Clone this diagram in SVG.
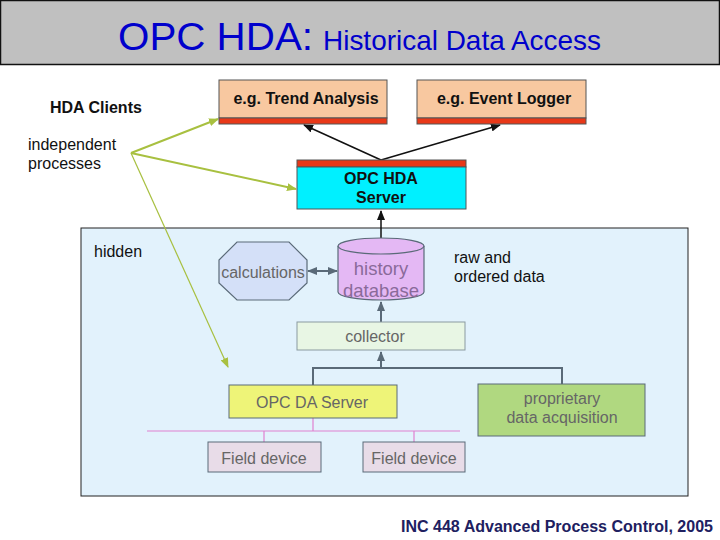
<svg xmlns="http://www.w3.org/2000/svg" width="720" height="540" viewBox="0 0 720 540">
<defs>
<style>
text{font-family:"Liberation Sans",Arial,sans-serif}
.bold{font-weight:bold}
.client{fill:#f8c8a0;stroke:#555;stroke-width:1}
.red{fill:#e83818;stroke:#555;stroke-width:1}
.dark{stroke:#111;stroke-width:1.5;fill:none}
.grey{stroke:#5a6a78;stroke-width:2;fill:none}
.green{stroke:#a8c040;fill:none}
.pink{stroke:#e080d0;stroke-width:1.2;fill:none}
.gtext{fill:#666;font-size:16px}
.lbl{fill:#111;font-size:16px}
</style>
<marker id="ab" markerWidth="10" markerHeight="8" refX="9" refY="4" orient="auto" markerUnits="userSpaceOnUse"><path d="M0,0 L10,4 L0,8 z" fill="#111"/></marker>
<marker id="ag" markerWidth="10" markerHeight="8" refX="9" refY="4" orient="auto" markerUnits="userSpaceOnUse"><path d="M0,0 L10,4 L0,8 z" fill="#5a6a78"/></marker>
<marker id="ags" markerWidth="10" markerHeight="8" refX="1" refY="4" orient="auto" markerUnits="userSpaceOnUse"><path d="M10,0 L0,4 L10,8 z" fill="#5a6a78"/></marker>
<marker id="agr" markerWidth="10" markerHeight="8" refX="9" refY="4" orient="auto" markerUnits="userSpaceOnUse"><path d="M0,0 L10,4 L0,8 z" fill="#a8c040"/></marker>
</defs>
<rect width="720" height="540" fill="#fff"/>
<g id="title">
<rect x="0.5" y="0.5" width="719" height="64" fill="#c0c0c0" stroke="#111" stroke-width="1.5"/>
<text x="118" y="50" fill="#0000cc" font-size="38" textLength="195" lengthAdjust="spacingAndGlyphs">OPC HDA:</text>
<text x="323" y="50" fill="#0000cc" font-size="28" textLength="278" lengthAdjust="spacingAndGlyphs">Historical Data Access</text>
</g>
<g id="hidden-area">
<rect x="81" y="228" width="607" height="268" fill="#e2f2fc" stroke="#222" stroke-width="1"/>
<text x="94" y="257" class="lbl">hidden</text>
</g>
<g id="labels">
<text x="50" y="113" class="lbl bold">HDA Clients</text>
<text x="28" y="150" class="lbl">independent</text>
<text x="28" y="169" class="lbl">processes</text>
<text x="454" y="263" class="lbl">raw and</text>
<text x="454" y="282" class="lbl">ordered data</text>
<text x="401" y="532" font-size="16" class="bold" fill="#202060" textLength="312" lengthAdjust="spacingAndGlyphs">INC 448 Advanced Process Control, 2005</text>
</g>
<g id="connectors">
<path class="dark" d="M381,160 L304,125" marker-end="url(#ab)"/>
<path class="dark" d="M381,160 L500,125" marker-end="url(#ab)"/>
<path class="dark" d="M381,240 L381,211" marker-end="url(#ab)"/>
<path class="green" stroke-width="2" d="M131,153 L218,119" marker-end="url(#agr)"/>
<path class="green" stroke-width="2" d="M131,153 L296,189" marker-end="url(#agr)"/>
<path class="green" stroke-width="1.2" d="M131,153 L228,367" marker-end="url(#agr)"/>
<path class="grey" d="M308,271 L337,271" marker-start="url(#ags)" marker-end="url(#ag)"/>
<path class="grey" d="M381,322 L381,302" marker-end="url(#ag)"/>
<path class="grey" d="M381,368 L381,352" marker-end="url(#ag)"/>
<path class="grey" d="M313,385 L313,368 L562,368 L562,384"/>
<path class="pink" d="M147,431 L460,431 M313,418 L313,431 M264,431 L264,442 M414,431 L414,442"/>
</g>
<g id="trend-analysis">
<rect class="client" x="219" y="80" width="168" height="38"/>
<rect class="red" x="219" y="118" width="168" height="6"/>
<text x="306" y="104" class="lbl bold" text-anchor="middle">e.g. Trend Analysis</text>
</g>
<g id="event-logger">
<rect class="client" x="417" y="80" width="169" height="38"/>
<rect class="red" x="417" y="118" width="169" height="6"/>
<text x="504" y="104" class="lbl bold" text-anchor="middle">e.g. Event Logger</text>
</g>
<g id="hda-server">
<rect x="297" y="160" width="169" height="7" fill="#e83818" stroke="#555"/>
<rect x="297" y="167" width="169" height="42" fill="#00f0ff" stroke="#555"/>
<text x="381" y="184" class="lbl bold" text-anchor="middle">OPC HDA</text>
<text x="381" y="203" class="lbl bold" text-anchor="middle">Server</text>
</g>
<g id="calculations">
<polygon points="237,242 289,242 307,260 307,283 289,300 237,300 219,283 219,260" fill="#d4e0f8" stroke="#5a6a78" stroke-width="1.2"/>
<text x="263" y="278" class="gtext" text-anchor="middle">calculations</text>
</g>
<g id="history-database">
<path d="M338,246 L338,292 A43,8 0 0 0 424,292 L424,246" fill="#e4b8f4" stroke="#5a6a78" stroke-width="1.2"/>
<ellipse cx="381" cy="246" rx="43" ry="8" fill="#e4b8f4" stroke="#5a6a78" stroke-width="1.2"/>
<text x="381" y="275" font-size="18.5" fill="#8a6a9a" text-anchor="middle">history</text>
<text x="381" y="297" font-size="18.5" fill="#8a6a9a" text-anchor="middle">database</text>
</g>
<g id="collector">
<rect x="297" y="322" width="168" height="28" fill="#e8f6e4" stroke="#8a9aa0"/>
<text x="375" y="342" class="gtext" text-anchor="middle">collector</text>
</g>
<g id="opc-da-server">
<rect x="229" y="385" width="168" height="33" fill="#eef478" stroke="#5a6a78"/>
<text x="312" y="408" class="gtext" text-anchor="middle">OPC DA Server</text>
</g>
<g id="proprietary">
<rect x="478" y="384" width="167" height="52" fill="#b0d880" stroke="#5a6a78"/>
<text x="562" y="404" class="gtext" text-anchor="middle">proprietary</text>
<text x="562" y="423" class="gtext" text-anchor="middle">data acquisition</text>
</g>
<g id="field-device-1">
<rect x="208" y="442" width="113" height="30" fill="#e8dce8" stroke="#5a6a78"/>
<text x="264" y="464" class="gtext" text-anchor="middle">Field device</text>
</g>
<g id="field-device-2">
<rect x="363" y="442" width="102" height="30" fill="#e8dce8" stroke="#5a6a78"/>
<text x="414" y="464" class="gtext" text-anchor="middle">Field device</text>
</g>
</svg>
